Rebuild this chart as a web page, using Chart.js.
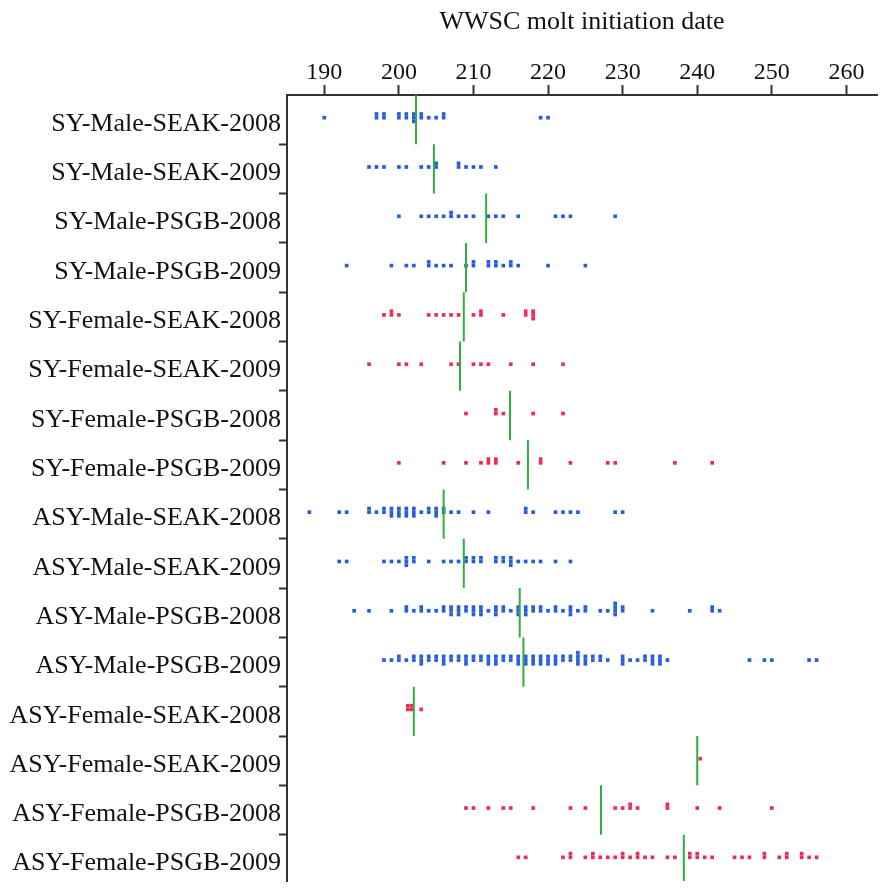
<!DOCTYPE html>
<html>
<head>
<meta charset="utf-8">
<script src="https://cdn.jsdelivr.net/npm/chart.js@4/dist/chart.umd.min.js"></script>
<style>
  html, body { margin: 0; padding: 0; background: #fff; }
  #wrap { width: 881px; height: 892px; }
</style>
</head>
<body>
<div id="wrap"><canvas id="dotChart"></canvas></div>
<script>
var rowLabels = [
  'SY-Male-SEAK-2008', 'SY-Male-SEAK-2009', 'SY-Male-PSGB-2008', 'SY-Male-PSGB-2009',
  'SY-Female-SEAK-2008', 'SY-Female-SEAK-2009', 'SY-Female-PSGB-2008', 'SY-Female-PSGB-2009',
  'ASY-Male-SEAK-2008', 'ASY-Male-SEAK-2009', 'ASY-Male-PSGB-2008', 'ASY-Male-PSGB-2009',
  'ASY-Female-SEAK-2008', 'ASY-Female-SEAK-2009', 'ASY-Female-PSGB-2008', 'ASY-Female-PSGB-2009'
];
var rowSex = ['M','M','M','M','F','F','F','F','M','M','M','M','F','F','F','F'];

// molt initiation dates (day of year), one list per group
var syMaleSeak08 = [190, 197,197, 198,198, 200,200, 201,201, 202,202,202, 203,203, 204, 205, 206,206, 219, 220];
var syMaleSeak09 = [196, 197, 198, 200, 201, 203, 204, 205,205, 208,208, 209, 210, 211, 213];
var syMalePsgb08 = [200, 203, 204, 205, 206, 207,207, 208, 209, 210, 212, 213, 214, 216, 221, 222, 223, 229];
var syMalePsgb09 = [193, 199, 201, 202, 204,204, 205, 206, 207, 209, 210,210, 212,212, 213,213, 214, 215,215, 216, 220, 225];
var syFemSeak08 = [198, 199,199, 200, 204, 205, 206, 207, 208, 210, 211,211, 214, 217,217, 218,218,218];
var syFemSeak09 = [196, 200, 201, 203, 207, 208, 210, 211, 212, 215, 218, 222];
var syFemPsgb08 = [209, 213,213, 214, 218, 222];
var syFemPsgb09 = [200, 206, 209, 211, 212,212, 213,213, 216, 219,219, 223, 228, 229, 237, 242];
var asyMaleSeak08 = [188, 192, 193, 196,196, 197, 198,198, 199,199,199, 200,200,200, 201,201,201,
  202,202,202, 203, 204,204, 205,205,205, 206,206, 207, 208, 210, 212, 217,217, 218, 221, 222, 223, 224, 229, 230];
var asyMaleSeak09 = [192, 193, 198, 199, 200, 201,201,201, 202,202, 204, 206, 207, 208, 209,209, 210,210,
  211,211, 213,213, 214,214, 215,215,215, 216, 217, 218, 219, 221, 223];
var asyMalePsgb08 = [194, 196, 199, 201,201, 202, 203,203, 204, 205, 206,206, 207,207,207, 208,208,208,
  209,209, 210,210,210, 211,211,211, 212, 213,213,213, 214,214, 215, 216,216,216, 217,217,217, 218,218,
  219,219, 220, 221,221, 222, 223,223,223, 224, 225,225, 227, 228, 229,229,229,229, 230,230, 234, 239, 242,242, 243];
var asyMalePsgb09 = [198, 199, 200,200, 201, 202,202, 203,203,203, 204,204, 205,205, 206,206,206, 207,207,
  208,208, 209,209,209, 210,210, 211,211, 212,212,212, 213,213,213, 214,214, 215,215, 216,216,216,
  217,217,217, 218,218,218, 219,219,219, 220,220,220, 221,221,221, 222,222, 223,223, 224,224,224,224,
  225,225,225, 226,226, 227,227, 228, 230,230,230, 231, 232, 233,233, 234,234,234, 235,235,235, 236,
  247, 249, 250, 255, 256];
var asyFemSeak08 = [201.2,201.2, 201.7,201.7, 203];
var asyFemSeak09 = [240.4];
var asyFemPsgb08 = [209, 210, 212, 214, 215, 218, 223, 225, 229, 230, 231,231, 232, 236,236, 240, 243, 250];
var asyFemPsgb09 = [216, 217, 222, 223,223, 225, 226,226, 227, 228, 229, 230,230, 231, 232,232, 233, 234,
  236, 237, 239,239, 240,240, 241, 242, 245, 246, 247, 249,249, 251, 252,252, 254,254, 255, 256];

var groupDates = [syMaleSeak08, syMaleSeak09, syMalePsgb08, syMalePsgb09,
  syFemSeak08, syFemSeak09, syFemPsgb08, syFemPsgb09,
  asyMaleSeak08, asyMaleSeak09, asyMalePsgb08, asyMalePsgb09,
  asyFemSeak08, asyFemSeak09, asyFemPsgb08, asyFemPsgb09];

// green bars: group mean date
var meanDates = [202.3, 204.7, 211.7, 209.0, 208.7, 208.2, 214.9, 217.3, 206.0, 208.7, 216.2, 216.7, 202.0, 240.0, 227.1, 238.2];

var xTicks = [190, 200, 210, 220, 230, 240, 250, 260];

var BLUE = 'rgb(38,92,222)';
var RED = 'rgb(236,44,84)';
var GREEN = 'rgb(44,178,60)';
var FONT = '"Liberation Serif", "Times New Roman", serif';

// dot-plot stacking: repeated dates pile up around the row centre
function stackRow(values, row) {
  var seen = {};
  return values.map(function (v) {
    var k = seen[v] = (seen[v] || 0) + 1;
    var step = Math.ceil((k - 1) / 2) * (k % 2 === 0 ? -1 : 1);
    return {x: v, y: row - 0.04 + step * 0.075};
  });
}

var malePts = [], femalePts = [], meanPts = [];
groupDates.forEach(function (vals, i) {
  var pts = stackRow(vals, i);
  if (rowSex[i] === 'M') malePts = malePts.concat(pts);
  else femalePts = femalePts.concat(pts);
  meanPts.push({x: meanDates[i], y: i - 0.5}, {x: meanDates[i], y: i + 0.5}, {x: null, y: null});
});

var rowEdges = rowLabels.map(function (l, i) { return i - 0.5; });

var ctx = document.getElementById('dotChart');
var myChart = new Chart(ctx, {
  type: 'scatter',
  data: {
    datasets: [{
      label: 'mean',
      data: meanPts,
      showLine: true,
      spanGaps: false,
      borderColor: GREEN,
      borderWidth: 2,
      pointRadius: 0,
      order: 0
    }, {
      label: 'male',
      data: malePts,
      pointStyle: 'rect',
      pointRadius: 2.6,
      pointBorderWidth: 0,
      backgroundColor: BLUE,
      borderColor: BLUE,
      order: 1
    }, {
      label: 'female',
      data: femalePts,
      pointStyle: 'rect',
      pointRadius: 2.6,
      pointBorderWidth: 0,
      backgroundColor: RED,
      borderColor: RED,
      order: 1
    }]
  },
  options: {
    responsive: true,
    maintainAspectRatio: false,
    animation: false,
    events: [],
    layout: { padding: 0 },
    plugins: {
      legend: { display: false },
      tooltip: { enabled: false }
    },
    scales: {
      x: {
        type: 'linear',
        position: 'top',
        min: 185,
        max: 264.1,
        afterFit: function (s) { s.height = 95; },
        afterBuildTicks: function (s) {
          s.ticks = xTicks.map(function (v) { return {value: v}; });
        },
        ticks: {
          autoSkip: false,
          padding: 0,
          color: '#111',
          font: { family: FONT, size: 24, lineHeight: 1 }
        },
        grid: {
          drawOnChartArea: false,
          drawTicks: true,
          tickLength: 10,
          tickWidth: 2,
          tickColor: '#333'
        },
        border: { display: true, color: '#333', width: 2 },
        title: {
          display: true,
          text: 'WWSC molt initiation date',
          color: '#111',
          padding: { top: 9, bottom: 0 },
          font: { family: FONT, size: 26, lineHeight: 1 }
        }
      },
      y: {
        type: 'linear',
        reverse: true,
        min: -0.5,
        max: 15.44,
        afterFit: function (s) { s.width = 287; },
        afterBuildTicks: function (s) {
          s.ticks = rowEdges.map(function (v) { return {value: v}; });
        },
        ticks: {
          autoSkip: false,
          padding: -2,
          labelOffset: 29,
          color: '#111',
          font: { family: FONT, size: 26, lineHeight: 1 },
          callback: function (v, i) { return rowLabels[i]; }
        },
        grid: {
          drawOnChartArea: false,
          drawTicks: true,
          tickLength: 8,
          tickWidth: 2,
          tickColor: function (c) { return c.index === 0 ? 'rgba(0,0,0,0)' : '#333'; }
        },
        border: { display: true, color: '#333', width: 2 }
      }
    }
  }
});
</script>
</body>
</html>
